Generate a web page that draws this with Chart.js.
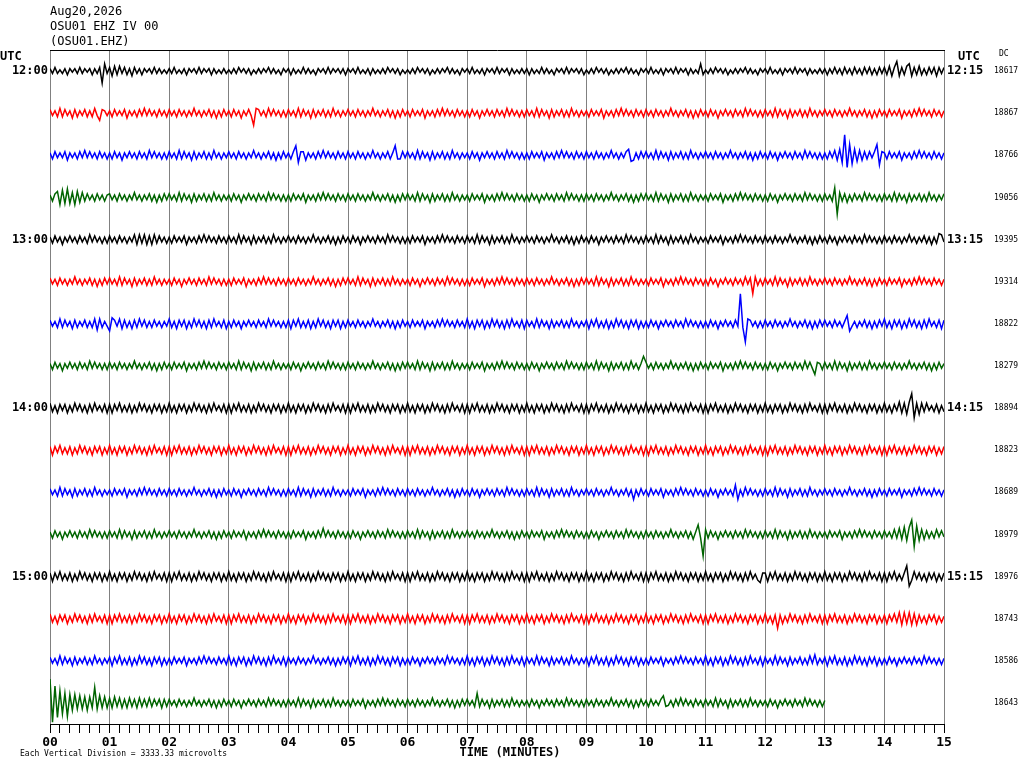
<!DOCTYPE html>
<html><head><meta charset="utf-8">
<script src="https://cdn.jsdelivr.net/npm/chart.js@4.4.1/dist/chart.umd.min.js"></script>
<style>html,body{margin:0;padding:0;background:#fff;overflow:hidden}canvas{display:block}</style>
</head><body><canvas id="c" width="1024" height="768"></canvas>
<script>
// ---- labels ----
const headerLines = ['Aug20,2026', 'OSU01 EHZ IV 00', '(OSU01.EHZ)'];
const leftHourLabels = ['12:00', '13:00', '14:00', '15:00'];
const rightHourLabels = ['12:15', '13:15', '14:15', '15:15'];
const dcValues = [18617, 18867, 18766, 19056, 19395, 19314, 18822, 18279, 18894, 18823, 18689, 18979, 18976, 18743, 18586, 18643];
const xTickLabels = ['00','01','02','03','04','05','06','07','08','09','10','11','12','13','14','15'];
const footerText = 'Each Vertical Division = 3333.33 microvolts';
const axisTitle = 'TIME (MINUTES)';

// ---- scale facts ----
const minutesPerLine = 15;
const samplesPerMinute = 24;        // one value every 2.5 s
const microvoltsPerDivision = 3333.33;
const microvoltsPerUnit = 95;       // amplitude unit used in the arrays below

// ---- trace amplitudes (units of 95 uV), one row per minute ----
const trace01 = [
2,-2,3,-2,1,-2,2,-3,2,-1,2,-2,3,-2,2,-1,2,-3,2,-2,3,-10,6,-2,
3,-4,4,-3,4,-2,3,-3,2,-4,3,-2,2,-3,2,-1,2,-2,3,-2,2,-2,1,-2,
2,-2,3,-2,1,-2,2,-3,2,-1,2,-2,3,-2,2,-1,2,-3,2,-2,1,-2,2,-2,
1,-2,2,-2,3,-1,2,-2,2,-3,1,-2,2,-2,2,-1,3,-2,2,-2,1,-3,2,-1,
2,-3,2,-2,1,-2,3,-2,2,-2,1,-3,2,-1,2,-2,3,-2,2,-1,2,-2,2,-3,
2,-1,2,-2,3,-2,1,-2,2,-3,2,-2,1,-2,2,-2,3,-1,2,-2,2,-3,1,-2,
1,-2,2,-2,3,-1,2,-2,2,-3,1,-2,2,-2,2,-1,3,-2,2,-2,1,-3,2,-1,
2,-2,3,-2,1,-2,2,-3,2,-1,2,-2,3,-2,2,-1,2,-3,2,-2,1,-2,2,-2,
2,-3,2,-2,1,-2,3,-2,2,-2,1,-3,2,-1,2,-2,3,-2,2,-1,2,-2,2,-3,
1,-2,2,-2,3,-1,2,-2,2,-3,1,-2,2,-2,2,-1,3,-2,2,-2,1,-3,2,-1,
2,-2,3,-2,1,-2,2,-3,2,-1,2,-2,3,-2,2,-1,2,-3,2,-2,1,-2,6,-3,
1,-2,2,-2,3,-1,2,-2,2,-3,1,-2,2,-2,2,-1,3,-2,2,-2,1,-3,2,-1,
2,-2,3,-2,1,-2,2,-3,2,-1,2,-2,3,-2,2,-1,2,-3,2,-2,1,-2,2,-2,
2,-3,2,-2,3,-2,2,-3,3,-2,2,-3,3,-2,2,-3,3,-2,3,-3,2,-3,3,-2,
3,-3,4,-4,3,8,-4,3,-3,4,6,-4,3,-3,4,-3,2,-3,3,-2,3,-4,3,-2,
3];
const trace02 = [
3,-2,2,-3,4,-3,3,-2,2,-4,3,-3,2,-2,3,-3,2,-3,4,-2,-6,3,2,-2,
2,-3,3,-2,2,-2,3,-4,2,-2,2,-3,3,-2,4,-2,3,-2,2,-3,3,-2,2,-3,
3,-2,2,-3,3,-2,2,-3,2,-2,4,-2,2,-3,2,-2,3,-3,2,-4,2,-3,3,-2,
2,-3,3,-2,2,-4,2,-2,3,-2,-10,4,3,-2,2,-3,4,-2,3,-2,2,-3,2,-3,
3,-2,2,-3,4,-3,3,-2,2,-4,3,-3,2,-2,3,-3,2,-3,4,-2,2,-3,2,-2,
3,-2,2,-3,3,-2,2,-3,2,-2,4,-2,2,-3,2,-2,3,-3,2,-4,2,-3,3,-2,
2,-3,3,-2,2,-2,3,-4,2,-2,2,-3,3,-2,4,-2,3,-2,2,-3,3,-2,2,-3,
2,-3,3,-2,2,-4,2,-2,3,-2,2,-3,3,-2,2,-3,4,-2,3,-2,2,-3,2,-3,
3,-2,2,-3,4,-3,3,-2,2,-4,3,-3,2,-2,3,-3,2,-3,4,-2,2,-3,2,-2,
2,-3,3,-2,2,-2,3,-4,2,-2,2,-3,3,-2,4,-2,3,-2,2,-3,3,-2,2,-3,
3,-2,2,-3,3,-2,2,-3,2,-2,4,-2,2,-3,2,-2,3,-3,2,-4,2,-3,3,-2,
2,-3,3,-2,2,-4,2,-2,3,-2,2,-3,3,-2,2,-3,4,-2,3,-2,2,-3,2,-3,
3,-2,2,-3,4,-3,3,-2,2,-4,3,-3,2,-2,3,-3,2,-3,4,-2,2,-3,2,-2,
3,-2,2,-3,3,-2,2,-3,2,-2,4,-2,2,-3,2,-2,3,-3,2,-4,2,-3,3,-2,
2,-3,3,-2,2,-2,3,-4,2,-2,2,-3,3,-2,4,-2,3,-2,2,-3,3,-2,2,-3,
2];
const trace03 = [
2,-3,3,-2,2,-2,3,-4,2,-2,2,-3,3,-2,4,-2,3,-2,2,-3,3,-2,2,-3,
2,-3,3,-2,2,-4,2,-2,3,-2,2,-3,3,-2,2,-3,4,-2,3,-2,2,-3,2,-3,
3,-2,2,-3,4,-3,3,-2,2,-4,3,-3,2,-2,3,-3,2,-3,4,-2,2,-3,2,-2,
3,-2,2,-3,3,-2,2,-3,2,-2,4,-2,2,-3,2,-2,3,-3,2,-4,2,-3,3,-2,
2,-3,3,8,-6,3,3,-4,2,-2,2,-3,3,-2,4,-2,3,-2,2,-3,3,-2,2,-3,
3,-2,2,-3,3,-2,2,-3,2,-2,4,-2,2,-3,2,-2,3,-3,2,8,-3,-3,3,-2,
3,-2,2,-3,4,-3,3,-2,2,-4,3,-3,2,-2,3,-3,2,-3,4,-2,2,-3,2,-2,
2,-3,3,-2,2,-4,2,-2,3,-2,2,-3,3,-2,2,-3,4,-2,3,-2,2,-3,2,-3,
2,-3,3,-2,2,-2,3,-4,2,-2,2,-3,3,-2,4,-2,3,-2,2,-3,3,-2,2,-3,
3,-2,2,-3,3,-2,2,-3,2,-2,4,-2,2,-3,2,-2,3,5,-5,-4,2,-3,3,-2,
3,-2,2,-3,4,-3,3,-2,2,-4,3,-3,2,-2,3,-3,2,-3,4,-2,2,-3,2,-2,
3,-2,2,-3,3,-2,2,-3,2,-2,4,-2,2,-3,2,-2,3,-3,2,-4,2,-3,3,-2,
2,-3,3,-2,2,-4,2,-2,3,-2,2,-3,3,-2,2,-3,4,-2,3,-2,2,-3,2,-3,
2,-3,3,-2,4,-4,5,-6,17,-10,9,-7,5,-5,4,-4,3,-3,3,-2,3,9,-8,3,
2,-3,3,-2,2,-2,3,-4,2,-2,2,-3,3,-2,4,-2,3,-2,2,-3,3,-2,2,-3,
2];
const trace04 = [
2,-3,3,5,-6,6,-5,7,-5,4,-6,5,-4,4,-3,3,-2,2,-3,3,-2,2,-3,2,
3,-2,2,-3,3,-2,2,-3,2,-2,4,-2,2,-3,2,-2,3,-3,2,-4,2,-3,3,-2,
3,-2,2,-3,4,-3,3,-2,2,-4,3,-3,2,-2,3,-3,2,-3,4,-2,2,-3,2,-2,
2,-3,3,-2,2,-4,2,-2,3,-2,2,-3,3,-2,2,-3,4,-2,3,-2,2,-3,2,-3,
2,-3,3,-2,2,-2,3,-4,2,-2,2,-3,3,-2,4,-2,3,-2,2,-3,3,-2,2,-3,
3,-2,2,-3,3,-2,2,-3,2,-2,4,-2,2,-3,2,-2,3,-3,2,-4,2,-3,3,-2,
3,-2,2,-3,4,-3,3,-2,2,-4,3,-3,2,-2,3,-3,2,-3,4,-2,2,-3,2,-2,
2,-3,3,-2,2,-2,3,-4,2,-2,2,-3,3,-2,4,-2,3,-2,2,-3,3,-2,2,-3,
2,-3,3,-2,2,-4,2,-2,3,-2,2,-3,3,-2,2,-3,4,-2,3,-2,2,-3,2,-3,
3,-2,2,-3,3,-2,2,-3,2,-2,4,-2,2,-3,2,-2,3,-3,2,-4,2,-3,3,-2,
3,-2,2,-3,4,-3,3,-2,2,-4,3,-3,2,-2,3,-3,2,-3,4,-2,2,-3,2,-2,
2,-3,3,-2,2,-2,3,-4,2,-2,2,-3,3,-2,4,-2,3,-2,2,-3,3,-2,2,-3,
2,-3,3,-2,2,-4,2,-2,3,-2,2,-3,3,-2,2,-3,4,-2,3,-2,2,-3,2,-3,
3,-2,2,-3,8,-14,4,-3,3,-4,2,-3,3,-2,2,-3,4,-2,3,-2,2,-3,2,-3,
3,-2,2,-3,4,-3,3,-2,2,-4,3,-3,2,-2,3,-3,2,-3,4,-2,2,-3,2,-2,
3];
const trace05 = [
2,-3,3,-2,2,-4,2,-2,3,-2,2,-3,3,-2,2,-3,4,-2,3,-2,2,-3,2,-3,
3,-2,2,-3,3,-2,2,-3,2,-2,4,-4,4,-3,4,-4,3,-4,4,-3,3,-2,2,-3,
2,-3,3,-2,2,-2,3,-4,2,-2,2,-3,3,-2,4,-2,3,-2,2,-3,3,-2,2,-3,
3,-2,2,-3,4,-3,3,-2,2,-4,3,-3,2,-2,3,-3,2,-3,4,-2,2,-3,2,-2,
3,-2,2,-3,3,-2,2,-3,2,-2,4,-2,2,-3,2,-2,3,-3,2,-4,2,-3,3,-2,
2,-3,3,-2,2,-4,2,-2,3,-2,2,-3,3,-2,2,-3,4,-2,3,-2,2,-3,2,-3,
2,-3,3,-2,2,-2,3,-4,2,-2,2,-3,3,-2,4,-2,3,-2,2,-3,3,-2,2,-3,
3,-2,2,-3,4,-3,3,-2,2,-4,3,-3,2,-2,3,-3,2,-3,4,-2,2,-3,2,-2,
3,-2,2,-3,3,-2,2,-3,2,-2,4,-2,2,-3,2,-2,3,-3,2,-4,2,-3,3,-2,
2,-3,3,-2,2,-4,2,-2,3,-2,2,-3,3,-2,2,-3,4,-2,3,-2,2,-3,2,-3,
3,-2,2,-3,4,-3,3,-2,2,-4,3,-3,2,-2,3,-3,2,-3,4,-2,2,-3,2,-2,
2,-3,3,-2,2,-2,3,-4,2,-2,2,-3,3,-2,4,-2,3,-2,2,-3,3,-2,2,-3,
3,-2,2,-3,3,-2,2,-3,2,-2,4,-2,2,-3,2,-2,3,-3,2,-4,2,-3,3,-2,
2,-3,3,-2,2,-4,2,-2,3,-2,2,-3,3,-2,2,-3,4,-2,3,-2,2,-3,2,-3,
3,-2,2,-3,3,-2,2,-3,2,-2,4,-2,2,-3,2,-2,3,-3,2,-4,2,-3,5,4,
-2];
const trace06 = [
3,-2,2,-3,3,-2,2,-3,2,-2,4,-2,2,-3,2,-2,3,-3,2,-4,2,-3,3,-2,
3,-2,2,-3,4,-3,3,-2,2,-4,3,-3,2,-2,3,-3,2,-3,4,-2,2,-3,2,-2,
2,-3,3,-2,2,-4,2,-2,3,-2,2,-3,3,-2,2,-3,4,-2,3,-2,2,-3,2,-3,
2,-3,3,-2,2,-2,3,-4,2,-2,2,-3,3,-2,4,-2,3,-2,2,-3,3,-2,2,-3,
3,-2,2,-3,3,-2,2,-3,2,-2,4,-2,2,-3,2,-2,3,-3,2,-4,2,-3,3,-2,
3,-2,2,-3,4,-3,3,-2,2,-4,3,-3,2,-2,3,-3,2,-3,4,-2,2,-3,2,-2,
2,-3,3,-2,2,-4,2,-2,3,-2,2,-3,3,-2,2,-3,4,-2,3,-2,2,-3,2,-3,
2,-3,3,-2,2,-2,3,-4,2,-2,2,-3,3,-2,4,-2,3,-2,2,-3,3,-2,2,-3,
3,-2,2,-3,3,-2,2,-3,2,-2,4,-2,2,-3,2,-2,3,-3,2,-4,2,-3,3,-2,
3,-2,2,-3,4,-3,3,-2,2,-4,3,-3,2,-2,3,-3,2,-3,4,-2,2,-3,2,-2,
2,-3,3,-2,2,-2,3,-4,2,-2,2,-3,3,-2,4,-2,3,-2,2,-3,3,-2,2,-3,
2,-3,3,-2,2,-4,2,-2,3,-2,2,-3,3,-2,2,-3,4,-2,3,-10,4,-3,2,-3,
3,-2,2,-3,4,-3,3,-2,2,-4,3,-3,2,-2,3,-3,2,-3,4,-2,2,-3,2,-2,
3,-2,2,-3,3,-2,2,-3,2,-2,4,-2,2,-3,2,-2,3,-3,2,-4,2,-3,3,-2,
2,-3,3,-2,2,-2,3,-4,2,-2,2,-3,3,-2,4,-2,3,-2,2,-3,3,-2,2,-3,
2];
const trace07 = [
3,-2,2,-3,4,-3,3,-2,2,-4,3,-3,2,-2,3,-3,2,-3,4,-5,4,-3,2,-2,
-6,5,3,-2,4,-4,3,-3,2,-4,3,-3,4,-2,3,-3,2,-3,3,-2,2,-3,2,-2,
4,-3,2,-4,3,-2,3,-4,2,-3,4,-2,3,-3,2,-4,3,-3,4,-2,2,-3,3,-4,
2,-3,3,-2,2,-4,2,-2,3,-2,2,-3,3,-2,2,-3,4,-2,3,-2,2,-3,2,-3,
3,-4,3,-2,4,-3,2,-3,3,-4,2,-3,4,-2,3,-3,2,-4,3,-2,3,-4,2,-3,
3,-2,2,-3,3,-2,2,-3,2,-2,4,-2,2,-3,2,-2,3,-3,2,-4,2,-3,3,-2,
2,-3,3,-2,2,-2,3,-4,2,-2,2,-3,3,-2,4,-2,3,-2,2,-3,3,-2,2,-3,
4,-3,2,-4,3,-2,3,-4,2,-3,4,-2,3,-3,2,-4,3,-3,4,-2,2,-3,3,-4,
3,-2,2,-3,4,-3,3,-2,2,-4,3,-3,2,-2,3,-3,2,-3,4,-2,2,-3,2,-2,
3,-4,3,-2,4,-3,2,-3,3,-4,2,-3,4,-2,3,-3,2,-4,3,-2,3,-4,2,-3,
2,-3,3,-2,2,-4,2,-2,3,-2,2,-3,3,-2,2,-3,4,-2,3,-2,2,-3,2,-3,
2,-3,3,-2,2,-4,2,-2,3,-2,2,-3,3,-2,25,-3,-15,4,3,-2,2,-3,2,-3,
3,-2,2,-3,3,-2,2,-3,2,-2,4,-2,2,-3,2,-2,3,-3,2,-4,2,-3,3,-2,
3,-2,2,-3,3,-2,2,-3,2,7,-6,-2,2,-3,2,-2,3,-3,2,-4,2,-3,3,-2,
4,-3,2,-4,3,-2,3,-4,2,-3,4,-2,3,-3,2,-4,3,-3,4,-2,2,-3,3,-4,
3];
const trace08 = [
2,-3,3,-2,2,-4,2,-2,3,-2,2,-3,3,-2,2,-3,4,-2,3,-2,2,-3,2,-3,
3,-2,2,-3,3,-2,2,-3,2,-2,4,-2,2,-3,2,-2,3,-3,2,-4,2,-3,3,-2,
2,-3,3,-2,2,-2,3,-4,2,-2,2,-3,3,-2,4,-2,3,-2,2,-3,3,-2,2,-3,
3,-2,2,-3,4,-3,3,-2,2,-4,3,-3,2,-2,3,-3,2,-3,4,-2,2,-3,2,-2,
2,-3,3,-2,2,-4,2,-2,3,-2,2,-3,3,-2,2,-3,4,-2,3,-2,2,-3,2,-3,
3,-2,2,-3,3,-2,2,-3,2,-2,4,-2,2,-3,2,-2,3,-3,2,-4,2,-3,3,-2,
3,-2,2,-3,4,-3,3,-2,2,-4,3,-3,2,-2,3,-3,2,-3,4,-2,2,-3,2,-2,
2,-3,3,-2,2,-2,3,-4,2,-2,2,-3,3,-2,4,-2,3,-2,2,-3,3,-2,2,-3,
2,-3,3,-2,2,-4,2,-2,3,-2,2,-3,3,-2,2,-3,4,-2,3,-2,2,-3,2,-3,
3,-2,2,-3,4,-3,3,-2,2,-4,3,-3,2,-2,3,-3,2,-3,4,-2,2,-3,2,8,
3,-2,2,-3,3,-2,2,-3,2,-2,4,-2,2,-3,2,-2,3,-3,2,-4,2,-3,3,-2,
2,-3,3,-2,2,-2,3,-4,2,-2,2,-3,3,-2,4,-2,3,-2,2,-3,3,-2,2,-3,
2,-3,3,-2,2,-4,2,-2,3,-2,2,-3,3,-2,2,-3,4,-2,3,-2,-7,3,2,-3,
3,-2,2,-3,4,-3,3,-2,2,-4,3,-3,2,-2,3,-3,2,-3,4,-2,2,-3,2,-2,
3,-2,2,-3,3,-2,2,-3,2,-2,4,-2,2,-3,2,-2,3,-3,2,-4,2,-3,3,-2,
2];
const trace09 = [
4,-3,2,-4,3,-2,3,-4,2,-3,4,-2,3,-3,2,-4,3,-3,4,-2,2,-3,3,-4,
3,-4,3,-2,4,-3,2,-3,3,-4,2,-3,4,-2,3,-3,2,-4,3,-2,3,-4,2,-3,
4,-3,2,-4,3,-2,3,-4,2,-3,4,-2,3,-3,2,-4,3,-3,4,-2,2,-3,3,-4,
3,-4,3,-2,4,-3,2,-3,3,-4,2,-3,4,-2,3,-3,2,-4,3,-2,3,-4,2,-3,
4,-3,2,-4,3,-2,3,-4,2,-3,4,-2,3,-3,2,-4,3,-3,4,-2,2,-3,3,-4,
3,-4,3,-2,4,-3,2,-3,3,-4,2,-3,4,-2,3,-3,2,-4,3,-2,3,-4,2,-3,
4,-3,2,-4,3,-2,3,-4,2,-3,4,-2,3,-3,2,-4,3,-3,4,-2,2,-3,3,-4,
3,-4,3,-2,4,-3,2,-3,3,-4,2,-3,4,-2,3,-3,2,-4,3,-2,3,-4,2,-3,
4,-3,2,-4,3,-2,3,-4,2,-3,4,-2,3,-3,2,-4,3,-3,4,-2,2,-3,3,-4,
3,-4,3,-2,4,-3,2,-3,3,-4,2,-3,4,-2,3,-3,2,-4,3,-2,3,-4,2,-3,
4,-3,2,-4,3,-2,3,-4,2,-3,4,-2,3,-3,2,-4,3,-3,4,-2,2,-3,3,-4,
3,-4,3,-2,4,-3,2,-3,3,-4,2,-3,4,-2,3,-3,2,-4,3,-2,3,-4,2,-3,
4,-3,2,-4,3,-2,3,-4,2,-3,4,-2,3,-3,2,-4,3,-3,4,-2,2,-3,3,-4,
3,-4,3,-2,4,-3,2,-3,3,-4,2,-3,4,-2,3,-3,2,-4,3,-2,3,-4,2,-3,
4,-3,2,-4,3,-2,5,-4,4,-5,5,12,-8,4,-5,4,-3,4,-2,2,-3,3,-4,2,
-3];
const trace10 = [
3,-4,3,-2,4,-3,2,-3,3,-4,2,-3,4,-2,3,-3,2,-4,3,-2,3,-4,2,-3,
4,-3,2,-4,3,-2,3,-4,2,-3,4,-2,3,-3,2,-4,3,-3,4,-2,2,-3,3,-4,
3,-4,3,-2,4,-3,2,-3,3,-4,2,-3,4,-2,3,-3,2,-4,3,-2,3,-4,2,-3,
4,-3,2,-4,3,-2,3,-4,2,-3,4,-2,3,-3,2,-4,3,-3,4,-2,2,-3,3,-4,
3,-4,3,-2,4,-3,2,-3,3,-4,2,-3,4,-2,3,-3,2,-4,3,-2,3,-4,2,-3,
4,-3,2,-4,3,-2,3,-4,2,-3,4,-2,3,-3,2,-4,3,-3,4,-2,2,-3,3,-4,
3,-4,3,-2,4,-3,2,-3,3,-4,2,-3,4,-2,3,-3,2,-4,3,-2,3,-4,2,-3,
4,-3,2,-4,3,-2,3,-4,2,-3,4,-2,3,-3,2,-4,3,-3,4,-2,2,-3,3,-4,
3,-4,3,-2,4,-3,2,-3,3,-4,2,-3,4,-2,3,-3,2,-4,3,-2,3,-4,2,-3,
4,-3,2,-4,3,-2,3,-4,2,-3,4,-2,3,-3,2,-4,3,-3,4,-2,2,-3,3,-4,
3,-4,3,-2,4,-3,2,-3,3,-4,2,-3,4,-2,3,-3,2,-4,3,-2,3,-4,2,-3,
4,-3,2,-4,3,-2,3,-4,2,-3,4,-2,3,-3,2,-4,3,-3,4,-2,2,-3,3,-4,
3,-4,3,-2,4,-3,2,-3,3,-4,2,-3,4,-2,3,-3,2,-4,3,-2,3,-4,2,-3,
4,-3,2,-4,3,-2,3,-4,2,-3,4,-2,3,-3,2,-4,3,-3,4,-2,2,-3,3,-4,
3,-4,3,-2,4,-3,2,-3,3,-4,2,-3,4,-2,3,-3,2,-4,3,-2,3,-4,2,-3,
3];
const trace11 = [
3,-2,2,-3,4,-3,3,-2,2,-4,3,-3,2,-2,3,-3,2,-3,4,-2,2,-3,2,-2,
2,-3,3,-2,2,-2,3,-4,2,-2,2,-3,3,-2,4,-2,3,-2,2,-3,3,-2,2,-3,
3,-2,2,-3,3,-2,2,-3,2,-2,4,-2,2,-3,2,-2,3,-3,2,-4,2,-3,3,-2,
2,-3,3,-2,2,-4,2,-2,3,-2,2,-3,3,-2,2,-3,4,-2,3,-2,2,-3,2,-3,
3,-2,2,-3,4,-3,3,-2,2,-4,3,-3,2,-2,3,-3,2,-3,4,-2,2,-3,2,-2,
2,-3,3,-2,2,-2,3,-4,2,-2,2,-3,3,-2,4,-2,3,-2,2,-3,3,-2,2,-3,
3,-2,2,-3,3,-2,2,-3,2,-2,4,-2,2,-3,2,-2,3,-3,2,-4,2,-3,3,-2,
2,-3,3,-2,2,-4,2,-2,3,-2,2,-3,3,-2,2,-3,4,-2,3,-2,2,-3,2,-3,
3,-2,2,-3,4,-3,3,-2,2,-4,3,-3,2,-2,3,-3,2,-3,4,-2,2,-3,2,-2,
3,-2,2,-3,3,-2,2,-3,2,-2,4,-2,2,-3,2,-2,3,-3,2,-6,2,-3,3,-2,
2,-3,3,-2,2,-2,3,-4,2,-2,2,-3,3,-2,4,-2,3,-2,2,-3,3,-2,2,-3,
2,-3,3,-2,2,-4,2,-2,3,-2,2,-3,6,-6,2,-3,4,-2,3,-2,2,-3,2,-3,
3,-2,2,-3,4,-3,3,-2,2,-4,3,-3,2,-2,3,-3,2,-3,4,-2,2,-3,2,-2,
3,-2,2,-3,3,-2,2,-3,2,-2,4,-2,2,-3,2,-2,3,-3,2,-4,2,-3,3,-2,
2,-3,3,-2,2,-2,3,-4,2,-2,2,-3,3,-2,4,-2,3,-2,2,-3,3,-2,2,-3,
2];
const trace12 = [
2,-3,3,-2,2,-4,2,-2,3,-2,2,-3,3,-2,2,-3,4,-2,3,-2,2,-3,2,-3,
3,-2,2,-3,4,-3,3,-2,2,-4,3,-3,2,-2,3,-3,2,-3,4,-2,2,-3,2,-2,
3,-2,2,-3,3,-2,2,-3,2,-2,4,-2,2,-3,2,-2,3,-3,2,-4,2,-3,3,-2,
2,-3,3,-2,2,-2,3,-4,2,-2,2,-3,3,-2,4,-2,3,-2,2,-3,3,-2,2,-3,
2,-3,3,-2,2,-2,3,-4,2,-2,2,-3,3,-2,5,-2,3,-2,2,-3,3,-2,2,-3,
2,-3,3,-2,2,-4,2,-2,3,-2,2,-3,3,-2,2,-3,4,-2,3,-2,2,-3,2,-3,
3,-2,2,-3,4,-3,3,-2,2,-4,3,-3,2,-2,3,-3,2,-3,4,-2,2,-3,2,-2,
3,-2,2,-3,3,-2,2,-3,2,-2,4,-2,2,-3,2,-2,3,-3,2,-4,2,-3,3,-2,
2,-3,3,-2,2,-2,3,-4,2,-2,2,-3,3,-2,4,-2,3,-2,2,-3,3,-2,2,-3,
2,-3,3,-2,2,-4,2,-2,3,-2,2,-3,3,-2,2,-3,4,-2,3,-2,2,-3,2,-3,
3,-2,2,-3,3,-2,2,-3,2,-2,4,-2,2,-3,2,-2,3,-3,2,-4,2,8,-3,-18,
4,-3,3,-2,2,-4,2,-2,3,-2,2,-3,3,-2,2,-3,4,-2,3,-2,2,-3,2,-3,
3,-2,2,-3,4,-3,3,-2,2,-4,3,-3,2,-2,3,-3,2,-3,4,-2,2,-3,2,-2,
2,-3,3,-2,2,-2,3,-4,2,-2,2,-3,3,-2,4,-2,3,-2,2,-3,3,-2,2,-3,
3,-2,2,-3,4,-3,5,-4,6,-5,6,12,-10,7,-5,4,-4,3,-3,2,-3,4,-2,3,
-2];
const trace13 = [
3,-4,3,-2,4,-3,2,-3,3,-4,2,-3,4,-2,3,-3,2,-4,3,-2,3,-4,2,-3,
4,-3,2,-4,3,-2,3,-4,2,-3,4,-2,3,-3,2,-4,3,-3,4,-2,2,-3,3,-4,
3,-4,3,-2,4,-3,2,-3,3,-4,2,-3,4,-2,3,-3,2,-4,3,-2,3,-4,2,-3,
4,-3,2,-4,3,-2,3,-4,2,-3,4,-2,3,-3,2,-4,3,-3,4,-2,2,-3,3,-4,
3,-4,3,-2,4,-3,2,-3,3,-4,2,-3,4,-2,3,-3,2,-4,3,-2,3,-4,2,-3,
4,-3,2,-4,3,-2,3,-4,2,-3,4,-2,3,-3,2,-4,3,-3,4,-2,2,-3,3,-4,
3,-4,3,-2,4,-3,2,-3,3,-4,2,-3,4,-2,3,-3,2,-4,3,-2,3,-4,2,-3,
4,-3,2,-4,3,-2,3,-4,2,-3,4,-2,3,-3,2,-4,3,-3,4,-2,2,-3,3,-4,
3,-4,3,-2,4,-3,2,-3,3,-4,2,-3,4,-2,3,-3,2,-4,3,-2,3,-4,2,-3,
4,-3,2,-4,3,-2,3,-4,2,-3,4,-2,3,-3,2,-4,3,-3,4,-2,2,-3,3,-4,
3,-4,3,-2,4,-3,2,-3,3,-4,2,-3,4,-2,3,-3,2,-4,3,-2,3,-4,2,-3,
4,-3,2,-4,3,-2,3,-4,2,-3,4,-2,3,-3,2,-4,3,-3,4,-2,2,-3,-5,3,
3,-4,3,-2,4,-3,2,-3,3,-4,2,-3,4,-2,3,-3,2,-4,3,-2,3,-4,2,-3,
4,-3,2,-4,3,-2,3,-4,2,-3,4,-2,3,-3,2,-4,3,-3,4,-2,2,-3,3,-4,
3,-4,3,-2,4,-3,2,-3,3,9,-8,-3,4,-2,3,-3,2,-4,3,-2,3,-4,2,-3,
3];
const trace14 = [
4,-3,2,-4,3,-2,3,-4,2,-3,4,-2,3,-3,2,-4,3,-3,4,-2,2,-3,3,-4,
3,-4,3,-2,4,-3,2,-3,3,-4,2,-3,4,-2,3,-3,2,-4,3,-2,3,-4,2,-3,
4,-3,2,-4,3,-2,3,-4,2,-3,4,-2,3,-3,2,-4,3,-3,4,-2,2,-3,3,-4,
3,-4,3,-2,4,-3,2,-3,3,-4,2,-3,4,-2,3,-3,2,-4,3,-2,3,-4,2,-3,
4,-3,2,-4,3,-2,3,-4,2,-3,4,-2,3,-3,2,-4,3,-3,4,-2,2,-3,3,-4,
3,-4,3,-2,4,-3,2,-3,3,-4,2,-3,4,-2,3,-3,2,-4,3,-2,3,-4,2,-3,
4,-3,2,-4,3,-2,3,-4,2,-3,4,-2,3,-3,2,-4,3,-3,4,-2,2,-3,3,-4,
3,-4,3,-2,4,-3,2,-3,3,-4,2,-3,4,-2,3,-3,2,-4,3,-2,3,-4,2,-3,
4,-3,2,-4,3,-2,3,-4,2,-3,4,-2,3,-3,2,-4,3,-3,4,-2,2,-3,3,-4,
3,-4,3,-2,4,-3,2,-3,3,-4,2,-3,4,-2,3,-3,2,-4,3,-2,3,-4,2,-3,
4,-3,2,-4,3,-2,3,-4,2,-3,4,-2,3,-3,2,-4,3,-3,4,-2,2,-3,3,-4,
3,-4,3,-2,4,-3,2,-3,3,-4,2,-3,4,-2,3,-3,2,-4,3,-2,3,-4,2,-3,
4,-3,2,-4,3,-8,3,-4,2,-3,4,-2,3,-3,2,-4,3,-3,4,-2,2,-3,3,-4,
3,-4,3,-2,4,-3,2,-3,3,-4,2,-3,4,-2,3,-3,2,-4,3,-2,3,-4,2,-3,
3,-4,3,-2,4,-3,5,-5,5,-4,5,-5,4,-5,3,-3,2,-4,3,-2,3,-4,2,-3,
2];
const trace15 = [
3,-2,2,-3,4,-3,3,-2,2,-4,3,-3,2,-2,3,-3,2,-3,4,-2,2,-3,2,-2,
3,-4,3,-2,4,-3,2,-3,3,-4,2,-3,4,-2,3,-3,2,-4,3,-2,3,-4,2,-3,
2,-3,3,-2,2,-2,3,-4,2,-2,2,-3,3,-2,4,-2,3,-2,2,-3,3,-2,2,-3,
4,-3,2,-4,3,-2,3,-4,2,-3,4,-2,3,-3,2,-4,3,-3,4,-2,2,-3,3,-4,
3,-2,2,-3,3,-2,2,-3,2,-2,4,-2,2,-3,2,-2,3,-3,2,-4,2,-3,3,-2,
3,-4,3,-2,4,-3,2,-3,3,-4,2,-3,4,-2,3,-3,2,-4,3,-2,3,-4,2,-3,
2,-3,3,-2,2,-4,2,-2,3,-2,2,-3,3,-2,2,-3,4,-2,3,-2,2,-3,2,-3,
4,-3,2,-4,3,-2,3,-4,2,-3,4,-2,3,-3,2,-4,3,-3,4,-2,2,-3,3,-4,
3,-2,2,-3,4,-3,3,-2,2,-4,3,-3,2,-2,3,-3,2,-3,4,-2,2,-3,2,-2,
3,-4,3,-2,4,-3,2,-3,3,-4,2,-3,4,-2,3,-3,2,-4,3,-2,3,-4,2,-3,
2,-3,3,-2,2,-2,3,-4,2,-2,2,-3,3,-2,4,-2,3,-2,2,-3,3,-2,2,-3,
4,-3,2,-4,3,-2,3,-4,2,-3,4,-2,3,-3,2,-4,3,-3,4,-2,2,-3,3,-4,
3,-2,2,-3,4,-3,3,-2,2,-4,3,-3,2,-2,3,-3,2,-3,4,-2,5,-3,2,-2,
3,-4,3,-2,4,-3,2,-3,3,-4,2,-3,4,-2,3,-3,2,-4,3,-2,3,-4,2,-3,
2,-3,3,-2,2,-4,2,-2,3,-2,2,-3,3,-2,2,-3,4,-2,3,-2,2,-3,2,-3,
2];
const trace16 = [
20,-16,14,-12,10,-9,8,-11,7,-6,7,-5,6,-5,5,-6,5,-4,13,-5,6,-4,5,-4,
4,-4,5,-3,4,-4,3,-4,4,-3,3,-4,4,-3,3,-3,4,-3,3,-2,3,-4,3,-3,
3,-2,2,-3,3,-2,2,-3,2,-2,4,-2,2,-3,2,-2,3,-3,2,-4,2,-3,3,-2,
2,-3,3,-2,2,-4,2,-2,3,-2,2,-3,3,-2,2,-3,4,-2,3,-2,2,-3,2,-3,
3,-2,2,-3,4,-3,3,-2,2,-4,3,-3,2,-2,3,-3,2,-3,4,-2,2,-3,2,-2,
2,-3,3,-2,2,-2,3,-4,2,-2,2,-3,3,-2,4,-2,3,-2,2,-3,3,-2,2,-3,
3,-2,2,-3,3,-2,2,-3,2,-2,4,-2,2,-3,2,-2,3,-3,2,-4,2,-3,3,-2,
3,-2,2,-3,8,-3,3,-2,2,-4,3,-3,2,-2,3,-3,2,-3,4,-2,2,-3,2,-2,
2,-3,3,-2,2,-4,2,-2,3,-2,2,-3,3,-2,2,-3,4,-2,3,-2,2,-3,2,-3,
3,-2,2,-3,3,-2,2,-3,2,-2,4,-2,2,-3,2,-2,3,-3,2,-4,2,-3,3,-2,
2,-3,3,-2,2,-2,3,6,-3,-2,2,-3,3,-2,4,-2,3,-2,2,-3,3,-2,2,-3,
3,-2,2,-3,4,-3,3,-2,2,-4,3,-3,2,-2,3,-3,2,-3,4,-2,2,-3,2,-2,
2,-3,3,-2,2,-4,2,-2,3,-2,2,-3,3,-2,2,-3,4,-2,3,-2,2,-3,2,-3,
2];

const traces = [trace01, trace02, trace03, trace04, trace05, trace06, trace07, trace08, trace09, trace10, trace11, trace12, trace13, trace14, trace15, trace16];
const traceColors = ['#000000', '#ff0000', '#0000ff', '#006400'];

const datasets = traces.map((vals, i) => ({
  data: vals.map((v, k) => ({ x: k / samplesPerMinute, y: -i + v * microvoltsPerUnit / microvoltsPerDivision })),
  borderColor: traceColors[i % 4],
  borderWidth: 1.5,
  pointRadius: 0,
  tension: 0,
  fill: false
}));

const isMajor = v => Math.abs(v - Math.round(v)) < 1e-6;

const textPlugin = {
  id: 'heliTexts',
  afterDraw(chart) {
    const { ctx, chartArea: a, scales: { y } } = chart;
    ctx.save();
    ctx.strokeStyle = '#000'; ctx.lineWidth = 1;
    ctx.beginPath(); ctx.moveTo(a.left, a.top + 0.5); ctx.lineTo(a.right + 1, a.top + 0.5); ctx.stroke();
    ctx.fillStyle = '#000';
    ctx.textBaseline = 'middle';
    ctx.textAlign = 'left';
    ctx.font = '12px "DejaVu Sans Mono"';
    headerLines.forEach((t, i) => ctx.fillText(t, a.left, 12 + i * 14.7));
    ctx.font = 'bold 12px "DejaVu Sans Mono"';
    ctx.fillText('UTC', 0, 57);
    ctx.fillText('UTC', 958, 57);
    leftHourLabels.forEach((t, j) => {
      ctx.textAlign = 'right';
      ctx.fillText(t, a.left - 2, y.getPixelForValue(-j * 4));
    });
    rightHourLabels.forEach((t, j) => {
      ctx.textAlign = 'left';
      ctx.fillText(t, a.right + 3, y.getPixelForValue(-j * 4));
    });
    ctx.font = '8px "DejaVu Sans Mono"';
    ctx.textAlign = 'left';
    ctx.fillText('DC', 999, 54);
    dcValues.forEach((d, i) => ctx.fillText(String(d), 994, y.getPixelForValue(-i)));
    ctx.fillText(footerText, 20, 754);
    ctx.font = 'bold 12px "DejaVu Sans Mono"';
    ctx.textAlign = 'center';
    ctx.fillText(axisTitle, 510, 753);
    ctx.restore();
  }
};

new Chart(document.getElementById('c'), {
  type: 'line',
  data: { datasets },
  options: {
    responsive: false,
    animation: false,
    devicePixelRatio: 1,
    events: [],
    layout: { padding: { left: 50, right: 80, top: 50, bottom: 0 } },
    plugins: { legend: { display: false }, tooltip: { enabled: false } },
    scales: {
      x: {
        type: 'linear', min: 0, max: minutesPerLine, position: 'bottom',
        afterBuildTicks: s => { s.ticks = Array.from({ length: minutesPerLine * 6 + 1 }, (_, j) => ({ value: j / 6 })); },
        afterFit: s => { s.height = 44; },
        grid: {
          color: c => (c.tick && isMajor(c.tick.value)) ? '#808080' : 'rgba(0,0,0,0)',
          tickColor: '#000', tickLength: 9, lineWidth: 1
        },
        border: { color: '#000', width: 1 },
        ticks: {
          autoSkip: false, maxRotation: 0, padding: 2, color: '#000',
          font: { family: 'DejaVu Sans Mono', size: 13, weight: 'bold' },
          callback: v => isMajor(v) ? xTickLabels[Math.round(v)] : ''
        }
      },
      y: { type: 'linear', min: -15.5, max: 0.5, display: false }
    }
  },
  plugins: [textPlugin]
});
</script></body></html>
